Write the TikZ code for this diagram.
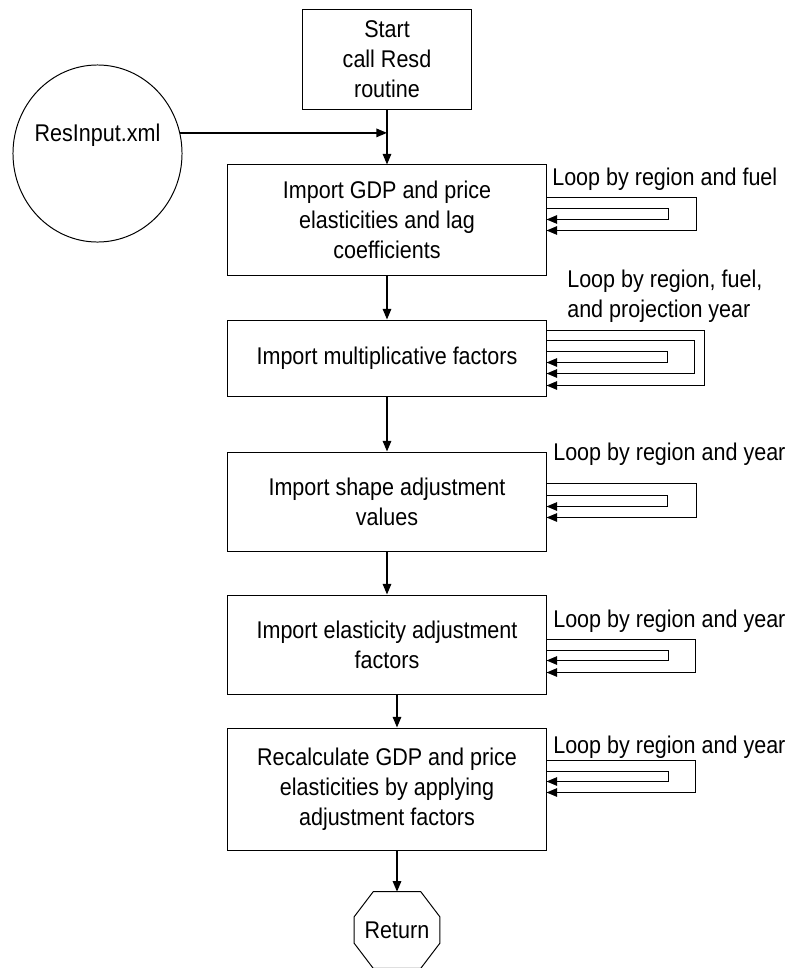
\documentclass[tikz,border=0pt]{standalone}
\usepackage{fontspec}
\setmainfont{Liberation Sans}[FakeStretch=0.89]
\usetikzlibrary{arrows.meta,calc,shapes.geometric}

\begin{document}
\begin{tikzpicture}[x=0.025cm,y=-0.025cm,
    font=\fontsize{17.2pt}{21.3pt}\selectfont,
    >={Triangle[length=7.5pt,width=6pt]}]
    \tikzset{
      stepbox/.style={draw,line width=0.7pt,align=center,inner sep=0pt,
        minimum width=7.95cm},
      loopnote/.style={inner sep=0pt,anchor=base west,align=left},
      flow/.style={->,line width=1pt},
    }
    \tikzset{
      pics/loopback/.style args={#1/#2}{code={
        \draw[flow] (0,0) -- ++(#1,0) -- ++(0,#2) -- ++(-#1,0);
        },
      }
    }
    \useasboundingbox (0,0) rectangle (790,968);

    %BOXES
    \node[stepbox,minimum width=4.225cm,minimum height=2.475cm] (start) at (387,59.5) {Start\\call Resd\\routine};
    \node[draw,ellipse,line width=0.7pt,minimum width=4.225cm,minimum height=4.425cm,
      label={[yshift=13pt]center:ResInput.xml}] (resinput) at (97.5,153.5) {};
    \node[stepbox,minimum height=2.75cm] (gdp) at (387,220) {Import GDP and price\\elasticities and lag\\coefficients};
    \node[stepbox,minimum height=1.9cm] (mult) at (387,358) {Import multiplicative factors};
    \node[stepbox,minimum height=2.475cm] (shape) at (387,501.5) {Import shape adjustment\\values};
    \node[stepbox,minimum height=2.475cm] (elast) at (387,644.5) {Import elasticity adjustment\\factors};
    \node[stepbox,minimum height=3.05cm] (recalc) at (387,789) {Recalculate GDP and price\\elasticities by applying\\adjustment factors};
    \node[inner sep=0pt,minimum width=2.125cm,minimum height=1.9cm] (ret) at (397,930) {Return};
    \draw[line width=0.7pt] ($(ret.north west)+(19,0)$) -- ($(ret.north east)+(-19,0)$)
      -- ($(ret.north east)+(0,25)$) -- ($(ret.south east)+(0,-25)$)
      -- ($(ret.south east)+(-19,0)$) -- ($(ret.south west)+(19,0)$)
      -- ($(ret.south west)+(0,-25)$) -- ($(ret.north west)+(0,25)$) -- cycle;

    %MAIN FLOW
    \coordinate (join) at (387,133);
    \draw[flow] (start.south) -- (gdp.north);
    \draw[flow] (resinput.14) -- (resinput.14 -| join);
    \draw[flow] (gdp.south) -- (mult.north);
    \draw[flow] (mult.south) -- (shape.north);
    \draw[flow] (shape.south) -- (elast.north);
    \draw[flow] ($(elast.south)+(10,0)$) -- ($(recalc.north)+(10,0)$);
    \draw[flow] ($(recalc.south)+(10,0)$) -- (ret.north);

    %LOOPS
    \node[loopnote] (note1) at (552,185) {Loop by region and fuel};
    \pic at ($(gdp.north east)+(0,33)$) {loopback={150/33}};
    \pic at ($(gdp.north east)+(0,44)$) {loopback={122/11}};

    \node[loopnote,anchor=west] (note2) at (567,296) {Loop by region, fuel,\\and projection year};
    \pic at ($(mult.north east)+(0,11)$) {loopback={158/55}};
    \pic at ($(mult.north east)+(0,21)$) {loopback={148/33}};
    \pic at ($(mult.north east)+(0,32)$) {loopback={121/11}};

    \node[loopnote] (note3) at (553,460) {Loop by region and year};
    \pic at ($(shape.north east)+(0,32)$) {loopback={150/34}};
    \pic at ($(shape.north east)+(0,44)$) {loopback={121/11}};

    \node[loopnote] (note4) at (553,627) {Loop by region and year};
    \pic at ($(elast.north east)+(0,45)$) {loopback={149/33}};
    \pic at ($(elast.north east)+(0,56)$) {loopback={122/10}};

    \node[loopnote] (note5) at (553,753) {Loop by region and year};
    \pic at ($(recalc.north east)+(0,33)$) {loopback={149/32}};
    \pic at ($(recalc.north east)+(0,44)$) {loopback={122/10}};
\end{tikzpicture}
\end{document}
